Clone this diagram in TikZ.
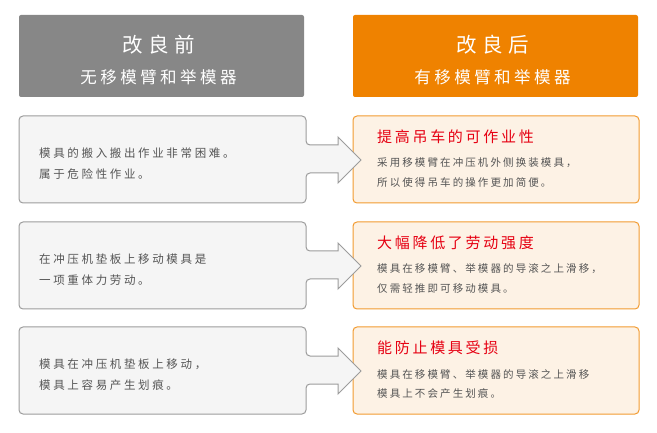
\documentclass[tikz,border=0pt]{standalone}
\usepackage{fontspec}
\setmainfont{Noto Sans CJK SC}
\usepackage{xcolor}
\usepackage{tikz}
\usetikzlibrary{positioning}
\definecolor{HdrGray}{HTML}{878787}
\definecolor{HdrOrange}{HTML}{EF8200}
\definecolor{BoxGray}{HTML}{F5F5F5}
\definecolor{LineGray}{HTML}{9C9C9C}
\definecolor{BoxCream}{HTML}{FDF2E5}
\definecolor{LineOrange}{HTML}{F29B30}
\definecolor{TitleRed}{HTML}{E60012}
\definecolor{TextGray}{HTML}{555555}

\begin{document}
\begin{tikzpicture}[x=1pt, y=-1pt,
  hdrtitle/.style={text=white, xshift=-3pt, font=\fontsize{20.5}{24}\selectfont\addfontfeature{LetterSpace=26}},
  hdrsub/.style={text=white, xshift=-3pt, font=\fontsize{16.5}{20}\selectfont\addfontfeature{LetterSpace=21}},
  lefttext/.style={anchor=west, inner sep=0pt, text=TextGray,
    font=\fontsize{11.5}{14}\selectfont\addfontfeature{LetterSpace=23}},
  righthead/.style={anchor=west, inner sep=0pt, text=TitleRed,
    font=\fontsize{15}{18}\selectfont\addfontfeature{LetterSpace=18}},
  righttext/.style={anchor=west, inner sep=0pt, text=TextGray,
    font=\fontsize{10.5}{13}\selectfont\addfontfeature{LetterSpace=20}},
  leftbox/.style={fill=BoxGray, draw=LineGray, line width=1pt},
  rightbox/.style={fill=BoxCream, draw=LineOrange, line width=1pt, rounded corners=4pt}
]

  \useasboundingbox (0,0) rectangle (657,433);

  %% Column settings
  \def\xL{19}      % left column, left edge
  \def\xLR{306}    % left column, right edge
  \def\xR{353}     % right column, left edge
  \def\xRR{639}    % right column, right edge
  \def\H{87}       % row box height

  %% Header boxes
  \fill[HdrGray, rounded corners=2pt] (\xL,15) rectangle (304,97);
  \fill[HdrOrange, rounded corners=2pt] (\xR,15) rectangle (638,97);
  \node[hdrtitle] (hdrBefore) at (161.5,45) {改良前};
  \node[hdrsub]   (subBefore) at (161.5,77) {无移模臂和举模器};
  \node[hdrtitle] (hdrAfter)  at (495.5,45) {改良后};
  \node[hdrsub]   (subAfter)  at (495.5,77) {有移模臂和举模器};

  %% Rows: top / left lines / right heading / right lines
  \foreach \t/\n/\la/\lb/\hd/\ra/\rb in {
    116/1/{模具的搬入搬出作业非常困难。}/{属于危险性作业。}/{提高吊车的可作业性}/{采用移模臂在冲压机外侧换装模具，}/{所以使得吊车的操作更加简便。},
    222/2/{在冲压机垫板上移动模具是}/{一项重体力劳动。}/{大幅降低了劳动强度}/{模具在移模臂、举模器的导滚之上滑移，}/{仅需轻推即可移动模具。},
    327/3/{模具在冲压机垫板上移动，}/{模具上容易产生划痕。}/{能防止模具受损}/{模具在移模臂、举模器的导滚之上滑移}/{模具上不会产生划痕。}
  }{
    % right (after) box
    \draw[rightbox] (\xR,\t) rectangle (\xRR,\t+\H);
    \node[righthead] (hd\n) at (377,\t+21) {\hd};
    \node[righttext] (ra\n) at (377,\t+47) {\ra};
    \node[righttext] (rb\n) at (377,\t+67) {\rb};

    % left (before) box with arrow, drawn over the right box edge
    \draw[leftbox] (\xL,\t+40)
      [rounded corners=4pt] -- (\xL,\t) -- (\xLR,\t) -- (\xLR,\t+29)
      -- (322,\t+29) [sharp corners] -- (338,\t+29) -- (338,\t+21)
      -- (361,\t+44) -- (338,\t+67) -- (338,\t+57) -- (322,\t+57)
      [rounded corners=4pt] -- (\xLR,\t+57) -- (\xLR,\t+\H)
      -- (\xL,\t+\H) -- (\xL,\t+40) -- cycle;
    \node[lefttext] (la\n) at (39,\t+37) {\la};
    \node[lefttext] (lb\n) at (39,\t+58) {\lb};
  }

\end{tikzpicture}
\end{document}
